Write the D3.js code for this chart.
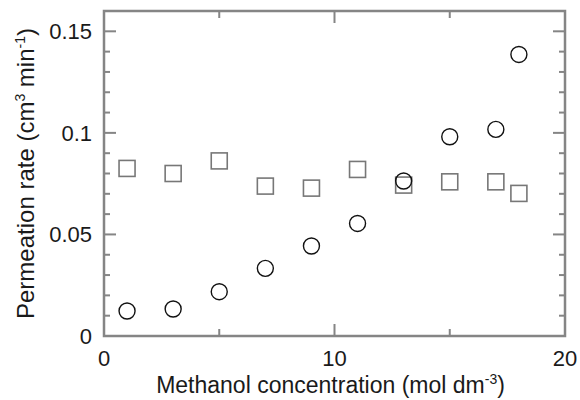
<!DOCTYPE html>
<html>
<head>
<meta charset="utf-8">
<script src="https://cdn.jsdelivr.net/npm/d3@7"></script>
<style>
  body { margin: 0; background: #fff; }
  text { font-family: "Liberation Sans", Arial, sans-serif; fill: #1a1a1a; }
</style>
</head>
<body>
<svg width="580" height="400"></svg>
<script>
// Data
const concentration = [1, 3, 5, 7, 9, 11, 13, 15, 17, 18];
const circleRate = [0.0123, 0.0133, 0.0218, 0.0333, 0.0443, 0.0554, 0.0763, 0.0981, 0.1017, 0.1386];
const squareRate = [0.0825, 0.0800, 0.0862, 0.0738, 0.0728, 0.0820, 0.0743, 0.0759, 0.0759, 0.0702];
const xMajor = [0, 10, 20];
const xMinor = [5, 15];
const yMajor = [0, 0.05, 0.1, 0.15];
const yMinor = [0.01, 0.02, 0.03, 0.04, 0.06, 0.07, 0.08, 0.09, 0.11, 0.12, 0.13, 0.14];

const svg = d3.select('svg');
const margin = { top: 11, left: 104, bottom: 64, right: 15 };
const width = +svg.attr('width');
const height = +svg.attr('height');
const axisColor = '#858585';

const x = d3.scaleLinear().domain([0, 20]).range([margin.left, width - margin.right]);
const y = d3.scaleLinear().domain([0, 0.16]).range([height - margin.bottom, margin.top]);

const g = svg.append('g');

// frame
g.append('rect')
  .attr('x', x(0)).attr('y', y(0.16))
  .attr('width', x(20) - x(0)).attr('height', y(0) - y(0.16))
  .attr('fill', 'none').attr('stroke', axisColor).attr('stroke-width', 2.5);

// ticks on all four sides, pointing inward
function xTicks(vals, len) {
  vals.forEach(v => {
    g.append('line').attr('x1', x(v)).attr('x2', x(v))
      .attr('y1', y(0)).attr('y2', y(0) - len)
      .attr('stroke', axisColor).attr('stroke-width', 2);
    g.append('line').attr('x1', x(v)).attr('x2', x(v))
      .attr('y1', y(0.16)).attr('y2', y(0.16) + len)
      .attr('stroke', axisColor).attr('stroke-width', 2);
  });
}
function yTicks(vals, len) {
  vals.forEach(v => {
    g.append('line').attr('x1', x(0)).attr('x2', x(0) + len)
      .attr('y1', y(v)).attr('y2', y(v))
      .attr('stroke', axisColor).attr('stroke-width', 2);
    g.append('line').attr('x1', x(20)).attr('x2', x(20) - len)
      .attr('y1', y(v)).attr('y2', y(v))
      .attr('stroke', axisColor).attr('stroke-width', 2);
  });
}
xTicks(xMajor, 12); xTicks(xMinor, 7);
yTicks(yMajor, 12); yTicks(yMinor, 6);

// tick labels
g.selectAll('.xl').data(xMajor).enter().append('text')
  .attr('x', d => x(d)).attr('y', y(0) + 30)
  .attr('text-anchor', 'middle').attr('font-size', 22)
  .text(d => d);
g.selectAll('.yl').data(yMajor).enter().append('text')
  .attr('x', x(0) - 12).attr('y', d => y(d) + 8)
  .attr('text-anchor', 'end').attr('font-size', 22)
  .text(d => d);

// axis titles
const xt = g.append('text')
  .attr('x', x(10) - 4).attr('y', 393)
  .attr('text-anchor', 'middle').attr('font-size', 23);
xt.append('tspan').text('Methanol concentration (mol dm');
xt.append('tspan').attr('font-size', 14).attr('dy', -9).text('-3');
xt.append('tspan').attr('dy', 9).text(')');

const yt = g.append('text')
  .attr('transform', `translate(34,${y(0.08)}) rotate(-90)`)
  .attr('text-anchor', 'middle').attr('font-size', 24);
yt.append('tspan').text('Permeation rate (cm');
yt.append('tspan').attr('font-size', 14).attr('dy', -9).text('3');
yt.append('tspan').attr('dy', 9).text(' min');
yt.append('tspan').attr('font-size', 14).attr('dy', -9).text('-1');
yt.append('tspan').attr('dy', 9).text(')');

// squares
g.selectAll('.sq').data(concentration).enter().append('rect')
  .attr('x', (d, i) => x(d) - 8).attr('y', (d, i) => y(squareRate[i]) - 8)
  .attr('width', 16).attr('height', 16)
  .attr('fill', 'none').attr('stroke', '#777').attr('stroke-width', 1.6);

// circles
g.selectAll('.ci').data(concentration).enter().append('circle')
  .attr('cx', d => x(d)).attr('cy', (d, i) => y(circleRate[i]))
  .attr('r', 8)
  .attr('fill', 'none').attr('stroke', '#111').attr('stroke-width', 1.4);
</script>
</body>
</html>
